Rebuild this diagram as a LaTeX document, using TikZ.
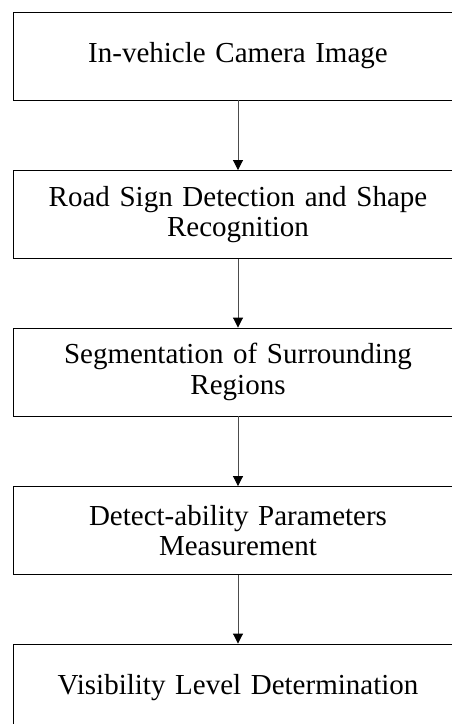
\documentclass[tikz,border=0pt]{standalone}
\usepackage{fontspec}
\setmainfont[WordSpace=0.85]{Liberation Serif}
\usetikzlibrary{arrows.meta}
\begin{document}
\begin{tikzpicture}[x=1pt,y=-1pt,
  box/.style={draw=black,line width=0.9pt,minimum width=449pt,minimum height=88pt,
    inner sep=0pt,align=center,text width=430pt,font=\fontsize{29}{30.5}\selectfont},
  arr/.style={draw=black!70,line width=0.9pt,-{Triangle[width=10pt,length=10pt,color=black]}}]
\useasboundingbox (0,0) rectangle (452,724);
\clip (0,0) rectangle (452,724);
\node[box] (b1) at (238,56) {In-vehicle Camera Image};
\node[box] (b2) at (238,214.5) {Road Sign Detection and Shape\\Recognition};
\node[box] (b3) at (238,372) {Segmentation of Surrounding\\Regions};
\node[box] (b4) at (238,530.5) {Detect-ability Parameters\\Measurement};
\node[box] (b5) at (238,688) {Visibility Level Determination};
\draw[arr] (b1.south) -- (b2.north);
\draw[arr] (b2.south) -- (b3.north);
\draw[arr] (b3.south) -- (b4.north);
\draw[arr] (b4.south) -- (b5.north);
\end{tikzpicture}
\end{document}
